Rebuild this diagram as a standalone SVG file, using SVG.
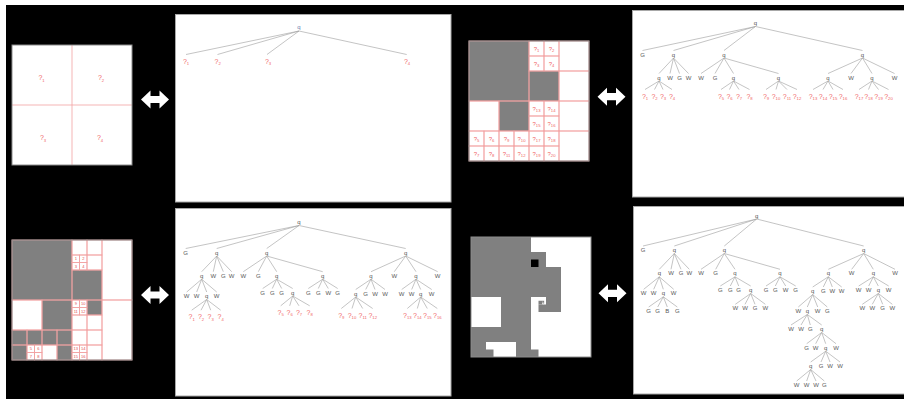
<svg xmlns="http://www.w3.org/2000/svg" width="904" height="399" viewBox="0 0 904 399">
<style>
.n{font-family:"Liberation Sans",Arial,sans-serif;font-size:6px;fill:#5a5a5a;text-anchor:middle}
.r{font-family:"Liberation Sans",Arial,sans-serif;font-size:7px;fill:#f06464;text-anchor:middle}
.ri{font-family:"Liberation Sans",Arial,sans-serif;font-size:6px;fill:#f06464;text-anchor:middle}
.num{font-family:"Liberation Sans",Arial,sans-serif;font-size:4px;fill:#e05050;text-anchor:middle}
.s{font-size:4.2px}
.e{stroke:#9c9c9c;stroke-width:0.6;fill:none}
.cell{fill:none;stroke:#f2a2a2;stroke-width:0.8}
.red{stroke:#f2a2a2;stroke-width:0.8}
.g{fill:#808080}
.k{fill:#000}
.panel{fill:#fff;stroke:#a8a8a8;stroke-width:1}
.img{fill:#fff}
.bd{fill:none;stroke:#8c8c8c;stroke-width:1}
.arr{fill:#fff}
</style>
<defs>
<path id="dbl" d="M0,0 L9.5,-9 L9.5,-3.6 L18.5,-3.6 L18.5,-9 L28,0 L18.5,9 L18.5,3.6 L9.5,3.6 L9.5,9 Z"/>
</defs>
<rect x="0" y="0" width="904" height="399" fill="#fff"/>
<rect x="6" y="5" width="898" height="394" fill="#000"/>

<!-- panels -->
<rect class="panel" x="175.5" y="14.5" width="275.5" height="187.5"/>
<rect class="panel" x="175.5" y="208.5" width="275.5" height="187.5"/>
<rect class="panel" x="632.5" y="10.5" width="272" height="186.5"/>
<rect class="panel" x="633.5" y="206.5" width="271" height="187.5"/>

<!-- arrows -->
<g id="arrows">
<use href="#dbl" class="arr" transform="translate(141,99.5)"/>
<use href="#dbl" class="arr" transform="translate(597.5,96.7)"/>
<use href="#dbl" class="arr" transform="translate(141,295)"/>
<use href="#dbl" class="arr" transform="translate(598.5,293.3)"/>
</g>

<!-- image 1 -->
<g id="img1">
<rect class="img" x="12" y="45" width="120" height="120"/>
<line class="red" x1="72" y1="45" x2="72" y2="165"/>
<line class="red" x1="12" y1="105" x2="132" y2="105"/>
<rect class="bd" x="12" y="45" width="120" height="120"/>
<text class="r" x="41.5" y="80">?<tspan class="s" dy="1.5">1</tspan></text>
<text class="r" x="101" y="80">?<tspan class="s" dy="1.5">2</tspan></text>
<text class="r" x="43" y="140">?<tspan class="s" dy="1.5">3</tspan></text>
<text class="r" x="100" y="140">?<tspan class="s" dy="1.5">4</tspan></text>
</g>

<!-- image 2 -->
<g id="img2">
<rect class="img" x="469" y="41" width="120" height="120"/>
<rect class="g" x="469" y="41" width="60" height="60"/>
<rect class="g" x="529" y="71" width="30" height="30"/>
<rect class="g" x="499" y="101" width="30" height="30"/>
<rect class="cell" x="469" y="41" width="60" height="60"/>
<rect class="cell" x="559" y="41" width="30" height="30"/>
<rect class="cell" x="529" y="71" width="30" height="30"/>
<rect class="cell" x="559" y="71" width="30" height="30"/>
<rect class="cell" x="529" y="41" width="15" height="15"/>
<rect class="cell" x="544" y="41" width="15" height="15"/>
<rect class="cell" x="529" y="56" width="15" height="15"/>
<rect class="cell" x="544" y="56" width="15" height="15"/>
<rect class="cell" x="469" y="101" width="30" height="30"/>
<rect class="cell" x="499" y="101" width="30" height="30"/>
<rect class="cell" x="469" y="131" width="15" height="15"/>
<rect class="cell" x="484" y="131" width="15" height="15"/>
<rect class="cell" x="469" y="146" width="15" height="15"/>
<rect class="cell" x="484" y="146" width="15" height="15"/>
<rect class="cell" x="499" y="131" width="15" height="15"/>
<rect class="cell" x="514" y="131" width="15" height="15"/>
<rect class="cell" x="499" y="146" width="15" height="15"/>
<rect class="cell" x="514" y="146" width="15" height="15"/>
<rect class="cell" x="559" y="101" width="30" height="30"/>
<rect class="cell" x="559" y="131" width="30" height="30"/>
<rect class="cell" x="529" y="101" width="15" height="15"/>
<rect class="cell" x="544" y="101" width="15" height="15"/>
<rect class="cell" x="529" y="116" width="15" height="15"/>
<rect class="cell" x="544" y="116" width="15" height="15"/>
<rect class="cell" x="529" y="131" width="15" height="15"/>
<rect class="cell" x="544" y="131" width="15" height="15"/>
<rect class="cell" x="529" y="146" width="15" height="15"/>
<rect class="cell" x="544" y="146" width="15" height="15"/>
<rect class="bd" x="469" y="41" width="120" height="120"/>
<text class="ri" x="536.5" y="50.5">?<tspan class="s" dy="1.5">1</tspan></text>
<text class="ri" x="551.5" y="50.5">?<tspan class="s" dy="1.5">2</tspan></text>
<text class="ri" x="536.5" y="65.5">?<tspan class="s" dy="1.5">3</tspan></text>
<text class="ri" x="551.5" y="65.5">?<tspan class="s" dy="1.5">4</tspan></text>
<text class="ri" x="476.5" y="140.5">?<tspan class="s" dy="1.5">5</tspan></text>
<text class="ri" x="491.5" y="140.5">?<tspan class="s" dy="1.5">6</tspan></text>
<text class="ri" x="476.5" y="155.5">?<tspan class="s" dy="1.5">7</tspan></text>
<text class="ri" x="491.5" y="155.5">?<tspan class="s" dy="1.5">8</tspan></text>
<text class="ri" x="506.5" y="140.5">?<tspan class="s" dy="1.5">9</tspan></text>
<text class="ri" x="521.5" y="140.5">?<tspan class="s" dy="1.5">10</tspan></text>
<text class="ri" x="506.5" y="155.5">?<tspan class="s" dy="1.5">11</tspan></text>
<text class="ri" x="521.5" y="155.5">?<tspan class="s" dy="1.5">12</tspan></text>
<text class="ri" x="536.5" y="110.5">?<tspan class="s" dy="1.5">13</tspan></text>
<text class="ri" x="551.5" y="110.5">?<tspan class="s" dy="1.5">14</tspan></text>
<text class="ri" x="536.5" y="125.5">?<tspan class="s" dy="1.5">15</tspan></text>
<text class="ri" x="551.5" y="125.5">?<tspan class="s" dy="1.5">16</tspan></text>
<text class="ri" x="536.5" y="140.5">?<tspan class="s" dy="1.5">17</tspan></text>
<text class="ri" x="551.5" y="140.5">?<tspan class="s" dy="1.5">18</tspan></text>
<text class="ri" x="536.5" y="155.5">?<tspan class="s" dy="1.5">19</tspan></text>
<text class="ri" x="551.5" y="155.5">?<tspan class="s" dy="1.5">20</tspan></text>
</g>

<!-- image 3 -->
<g id="img3">
<rect class="img" x="12" y="240" width="120" height="120"/>
<rect class="g" x="12" y="240" width="60" height="60"/>
<rect class="g" x="72" y="270" width="30" height="30"/>
<rect class="g" x="42" y="300" width="30" height="30"/>
<rect class="g" x="12" y="330" width="30" height="15"/>
<rect class="g" x="12" y="345" width="15" height="15"/>
<rect class="g" x="42" y="330" width="30" height="15"/>
<rect class="g" x="57" y="345" width="15" height="15"/>
<rect class="g" x="87" y="300" width="15" height="15"/>
<rect class="cell" x="12" y="240" width="60" height="60"/>
<rect class="cell" x="72" y="240" width="15" height="15"/>
<rect class="cell" x="87" y="240" width="15" height="15"/>
<rect class="cell" x="87" y="255" width="15" height="15"/>
<rect class="cell" x="72" y="255" width="7.5" height="7.5"/>
<rect class="cell" x="79.5" y="255" width="7.5" height="7.5"/>
<rect class="cell" x="72" y="262.5" width="7.5" height="7.5"/>
<rect class="cell" x="79.5" y="262.5" width="7.5" height="7.5"/>
<rect class="cell" x="102" y="240" width="30" height="60"/>
<rect class="cell" x="72" y="270" width="30" height="30"/>
<rect class="cell" x="12" y="300" width="30" height="30"/>
<rect class="cell" x="42" y="300" width="30" height="30"/>
<rect class="cell" x="12" y="330" width="15" height="15"/>
<rect class="cell" x="27" y="330" width="15" height="15"/>
<rect class="cell" x="12" y="345" width="15" height="15"/>
<rect class="cell" x="27" y="345" width="7.5" height="7.5"/>
<rect class="cell" x="34.5" y="345" width="7.5" height="7.5"/>
<rect class="cell" x="27" y="352.5" width="7.5" height="7.5"/>
<rect class="cell" x="34.5" y="352.5" width="7.5" height="7.5"/>
<rect class="cell" x="42" y="330" width="15" height="15"/>
<rect class="cell" x="57" y="330" width="15" height="15"/>
<rect class="cell" x="42" y="345" width="15" height="15"/>
<rect class="cell" x="57" y="345" width="15" height="15"/>
<rect class="cell" x="72" y="300" width="7.5" height="7.5"/>
<rect class="cell" x="79.5" y="300" width="7.5" height="7.5"/>
<rect class="cell" x="72" y="307.5" width="7.5" height="7.5"/>
<rect class="cell" x="79.5" y="307.5" width="7.5" height="7.5"/>
<rect class="cell" x="87" y="300" width="15" height="15"/>
<rect class="cell" x="72" y="315" width="15" height="15"/>
<rect class="cell" x="87" y="315" width="15" height="15"/>
<rect class="cell" x="102" y="300" width="30" height="60"/>
<rect class="cell" x="72" y="330" width="15" height="15"/>
<rect class="cell" x="87" y="330" width="15" height="15"/>
<rect class="cell" x="72" y="345" width="7.5" height="7.5"/>
<rect class="cell" x="79.5" y="345" width="7.5" height="7.5"/>
<rect class="cell" x="72" y="352.5" width="7.5" height="7.5"/>
<rect class="cell" x="79.5" y="352.5" width="7.5" height="7.5"/>
<rect class="cell" x="87" y="345" width="15" height="15"/>
<rect class="bd" x="12" y="240" width="120" height="120"/>
<text class="num" x="75.75" y="260.2">1</text>
<text class="num" x="83.25" y="260.2">2</text>
<text class="num" x="75.75" y="267.7">3</text>
<text class="num" x="83.25" y="267.7">4</text>
<text class="num" x="30.75" y="350.2">5</text>
<text class="num" x="38.25" y="350.2">6</text>
<text class="num" x="30.75" y="357.7">7</text>
<text class="num" x="38.25" y="357.7">8</text>
<text class="num" x="75.75" y="305.2">9</text>
<text class="num" x="83.25" y="305.2">10</text>
<text class="num" x="75.75" y="312.7">11</text>
<text class="num" x="83.25" y="312.7">12</text>
<text class="num" x="75.75" y="350.2">13</text>
<text class="num" x="83.25" y="350.2">14</text>
<text class="num" x="75.75" y="357.7">15</text>
<text class="num" x="83.25" y="357.7">16</text>
</g>

<!-- image 4 -->
<g id="img4">
<rect class="img" x="471" y="237" width="120" height="120"/>
<rect class="g" x="471" y="237" width="60" height="60"/>
<rect class="g" x="531" y="252" width="15" height="15"/>
<rect class="k" x="531" y="259.5" width="7.5" height="7.5"/>
<rect class="g" x="531" y="267" width="30" height="30"/>
<rect class="g" x="501" y="297" width="30" height="30"/>
<rect class="g" x="471" y="327" width="30" height="15"/>
<rect class="g" x="471" y="342" width="15" height="15"/>
<rect class="g" x="486" y="349.5" width="7.5" height="7.5"/>
<rect class="g" x="501" y="327" width="30" height="15"/>
<rect class="g" x="516" y="342" width="15" height="15"/>
<rect class="g" x="546" y="297" width="15" height="15"/>
<rect class="g" x="538.5" y="304.5" width="7.5" height="7.5"/>
<rect class="g" x="538.5" y="300.75" width="3.75" height="3.75"/>
<rect class="g" x="542.25" y="300.75" width="1.875" height="1.875"/>
<rect class="g" x="543.19" y="302.625" width="0.94" height="0.94"/>
<rect class="g" x="531" y="349.5" width="7.5" height="7.5"/>
<rect class="bd" x="471" y="237" width="120" height="120" stroke="#b0b0b0"/>
</g>

<!-- connectors -->
<g id="connectors" class="e">
<path d="M299,31L186,54.5M299,31L217.5,54.5M299,31L267,54.5M299,31L406.7,54.5"/>
<path d="M755.5,26.5L642.5,50.5M755.5,26.5L673.5,50.5M755.5,26.5L724,50.5M755.5,26.5L862.5,50.5
M673.5,58L659,73.5M673.5,58L670,73.5M673.5,58L679.5,73.5M673.5,58L688.5,73.5
M724,58L701,73.5M724,58L715,73.5M724,58L733.5,73.5M724,58L778.5,73.5
M862.5,58L828,73.5M862.5,58L851,73.5M862.5,58L872,73.5M862.5,58L894.5,73.5
M659,81L645,89.5M659,81L654.5,89.5M659,81L663,89.5M659,81L672,89.5
M733.5,81L721,89.5M733.5,81L729.5,89.5M733.5,81L739,89.5M733.5,81L749.5,89.5
M778.5,81L766,89.5M778.5,81L776,89.5M778.5,81L787,89.5M778.5,81L797,89.5
M828,81L813,89.5M828,81L823,89.5M828,81L833,89.5M828,81L843,89.5
M872,81L859,89.5M872,81L868.5,89.5M872,81L878.5,89.5M872,81L888.5,89.5"/>
<path d="M299,225.5L185.7,248.5M299,225.5L216.7,248.5M299,225.5L266.7,248.5M299,225.5L405.7,248.5
M216.7,256L201.7,271.7M216.7,256L213.3,271.7M216.7,256L223.3,271.7M216.7,256L231.7,271.7
M266.7,256L243.3,271.7M266.7,256L258.3,271.7M266.7,256L276.7,271.7M266.7,256L322.7,271.7
M405.7,256L371,271.7M405.7,256L394.3,271.7M405.7,256L416,271.7M405.7,256L437.7,271.7
M201.7,279.2L186.7,292M201.7,279.2L196.7,292M201.7,279.2L206.7,292M201.7,279.2L216.7,292
M276.7,279.2L262.7,288.5M276.7,279.2L272.3,288.5M276.7,279.2L281.7,288.5M276.7,279.2L292.7,288.5
M322.7,279.2L308.3,288.5M322.7,279.2L318.3,288.5M322.7,279.2L328.3,288.5M322.7,279.2L337.7,288.5
M371,279.2L355.7,289.5M371,279.2L365.7,289.5M371,279.2L375,289.5M371,279.2L385,289.5
M416,279.2L401.7,289.5M416,279.2L411.7,289.5M416,279.2L420.7,289.5M416,279.2L431.7,289.5
M206.7,299.5L191.7,310.2M206.7,299.5L201,310.2M206.7,299.5L210.7,310.2M206.7,299.5L220.7,310.2
M292.7,296L280.7,305.8M292.7,296L289.7,305.8M292.7,296L299,305.8M292.7,296L309.7,305.8
M355.7,297L341.3,308.5M355.7,297L352,308.5M355.7,297L362.7,308.5M355.7,297L372.7,308.5
M420.7,297L407.3,308.5M420.7,297L417.3,308.5M420.7,297L427.3,308.5M420.7,297L437.3,308.5"/>
<path d="M756.7,219L643,246M756.7,219L674.3,246M756.7,219L724.3,246M756.7,219L863.7,246
M674.3,253.5L659.3,269.3M674.3,253.5L671,269.3M674.3,253.5L681,269.3M674.3,253.5L689.3,269.3
M724.3,253.5L701,269.3M724.3,253.5L715.7,269.3M724.3,253.5L735,269.3M724.3,253.5L780,269.3
M863.7,253.5L828.3,269.3M863.7,253.5L851.7,269.3M863.7,253.5L873.3,269.3M863.7,253.5L895,269.3
M659.3,276.8L643.7,289.3M659.3,276.8L653.7,289.3M659.3,276.8L663.3,289.3M659.3,276.8L673.7,289.3
M735,276.8L720.3,286M735,276.8L730.3,286M735,276.8L738.7,286M735,276.8L750.7,286
M780,276.8L766,286M780,276.8L775.3,286M780,276.8L785.7,286M780,276.8L795.7,286
M828.3,276.8L812.7,287M828.3,276.8L823.3,287M828.3,276.8L832.3,287M828.3,276.8L841.7,287
M873.3,276.8L858.7,286M873.3,276.8L868.7,286M873.3,276.8L878.3,286M873.3,276.8L888.7,286
M663.3,296.8L648.7,307M663.3,296.8L657.7,307M663.3,296.8L667.3,307M663.3,296.8L677.3,307
M750.7,293.5L735.3,304.3M750.7,293.5L745,304.3M750.7,293.5L755,304.3M750.7,293.5L765.3,304.3
M812.7,294.5L798.3,307M812.7,294.5L807.3,307M812.7,294.5L817.7,307M812.7,294.5L827.3,307
M878.3,293.5L862.3,304.3M878.3,293.5L872.3,304.3M878.3,293.5L882.7,304.3M878.3,293.5L892.3,304.3
M807.3,314.5L791,325M807.3,314.5L801,325M807.3,314.5L810.3,325M807.3,314.5L821.7,325
M821.7,332.5L806.7,343.7M821.7,332.5L815.7,343.7M821.7,332.5L825.7,343.7M821.7,332.5L836,343.7
M825.7,351.2L810.7,362M825.7,351.2L821,362M825.7,351.2L830,362M825.7,351.2L840,362
M810.7,369.5L796.7,381M810.7,369.5L806.7,381M810.7,369.5L816,381M810.7,369.5L824.3,381"/>
</g>

<!-- tree 1 nodes -->
<g id="t1-root"><text class="n" x="299" y="29" style="fill:#6a7db0">q</text></g>
<g id="t1-a"><text class="r" x="186" y="63.5">?<tspan class="s" dy="1.5">1</tspan></text></g>
<g id="t1-b"><text class="r" x="217.7" y="63.5">?<tspan class="s" dy="1.5">2</tspan></text></g>
<g id="t1-c"><text class="r" x="268" y="63.5">?<tspan class="s" dy="1.5">3</tspan></text></g>
<g id="t1-d"><text class="r" x="407" y="63.5">?<tspan class="s" dy="1.5">4</tspan></text></g>

<!-- tree 2 nodes -->
<g id="t2-root"><text class="n" x="755.5" y="25">q</text></g>
<g id="t2-1"><text class="n" x="642.5" y="56.5">G</text></g>
<g id="t2-2"><text class="n" x="673.5" y="56.5">q</text></g>
<g id="t2-3"><text class="n" x="724" y="56.5">q</text></g>
<g id="t2-4"><text class="n" x="862.5" y="56.5">q</text></g>
<g id="t2-21"><text class="n" x="659" y="79.5">q</text></g>
<g id="t2-22"><text class="n" x="670" y="79.5">W</text></g>
<g id="t2-23"><text class="n" x="679.5" y="79.5">G</text></g>
<g id="t2-24"><text class="n" x="688.5" y="79.5">W</text></g>
<g id="t2-31"><text class="n" x="701" y="79.5">W</text></g>
<g id="t2-32"><text class="n" x="715" y="79.5">G</text></g>
<g id="t2-33"><text class="n" x="733.5" y="79.5">q</text></g>
<g id="t2-34"><text class="n" x="778.5" y="79.5">q</text></g>
<g id="t2-41"><text class="n" x="828" y="79.5">q</text></g>
<g id="t2-42"><text class="n" x="851" y="79.5">W</text></g>
<g id="t2-43"><text class="n" x="872" y="79.5">q</text></g>
<g id="t2-44"><text class="n" x="894.5" y="79.5">W</text></g>
<g id="t2-l1"><text class="r" x="645" y="98.5">?<tspan class="s" dy="1.5">1</tspan></text></g>
<g id="t2-l2"><text class="r" x="654.5" y="98.5">?<tspan class="s" dy="1.5">2</tspan></text></g>
<g id="t2-l3"><text class="r" x="663" y="98.5">?<tspan class="s" dy="1.5">3</tspan></text></g>
<g id="t2-l4"><text class="r" x="672" y="98.5">?<tspan class="s" dy="1.5">4</tspan></text></g>
<g id="t2-l5"><text class="r" x="721" y="98.5">?<tspan class="s" dy="1.5">5</tspan></text></g>
<g id="t2-l6"><text class="r" x="729.5" y="98.5">?<tspan class="s" dy="1.5">6</tspan></text></g>
<g id="t2-l7"><text class="r" x="739" y="98.5">?<tspan class="s" dy="1.5">7</tspan></text></g>
<g id="t2-l8"><text class="r" x="749.5" y="98.5">?<tspan class="s" dy="1.5">8</tspan></text></g>
<g id="t2-l9"><text class="r" x="766" y="98.5">?<tspan class="s" dy="1.5">9</tspan></text></g>
<g id="t2-l10"><text class="r" x="776" y="98.5">?<tspan class="s" dy="1.5">10</tspan></text></g>
<g id="t2-l11"><text class="r" x="787" y="98.5">?<tspan class="s" dy="1.5">11</tspan></text></g>
<g id="t2-l12"><text class="r" x="797" y="98.5">?<tspan class="s" dy="1.5">12</tspan></text></g>
<g id="t2-l13"><text class="r" x="813" y="98.5">?<tspan class="s" dy="1.5">13</tspan></text></g>
<g id="t2-l14"><text class="r" x="823" y="98.5">?<tspan class="s" dy="1.5">14</tspan></text></g>
<g id="t2-l15"><text class="r" x="833" y="98.5">?<tspan class="s" dy="1.5">15</tspan></text></g>
<g id="t2-l16"><text class="r" x="843" y="98.5">?<tspan class="s" dy="1.5">16</tspan></text></g>
<g id="t2-l17"><text class="r" x="859" y="98.5">?<tspan class="s" dy="1.5">17</tspan></text></g>
<g id="t2-l18"><text class="r" x="868.5" y="98.5">?<tspan class="s" dy="1.5">18</tspan></text></g>
<g id="t2-l19"><text class="r" x="878.5" y="98.5">?<tspan class="s" dy="1.5">19</tspan></text></g>
<g id="t2-l20"><text class="r" x="888.5" y="98.5">?<tspan class="s" dy="1.5">20</tspan></text></g>

<!-- tree 3 nodes -->
<g id="t3-root"><text class="n" x="299" y="224">q</text></g>
<g id="t3-1"><text class="n" x="185.7" y="254.5">G</text></g>
<g id="t3-2"><text class="n" x="216.7" y="254.5">q</text></g>
<g id="t3-3"><text class="n" x="266.7" y="254.5">q</text></g>
<g id="t3-4"><text class="n" x="405.7" y="254.5">q</text></g>
<g id="t3-21"><text class="n" x="201.7" y="277.7">q</text></g>
<g id="t3-22"><text class="n" x="213.3" y="277.7">W</text></g>
<g id="t3-23"><text class="n" x="223.3" y="277.7">G</text></g>
<g id="t3-24"><text class="n" x="231.7" y="277.7">W</text></g>
<g id="t3-31"><text class="n" x="243.3" y="277.7">W</text></g>
<g id="t3-32"><text class="n" x="258.3" y="277.7">G</text></g>
<g id="t3-33"><text class="n" x="276.7" y="277.7">q</text></g>
<g id="t3-34"><text class="n" x="322.7" y="277.7">q</text></g>
<g id="t3-41"><text class="n" x="371" y="277.7">q</text></g>
<g id="t3-42"><text class="n" x="394.3" y="277.7">W</text></g>
<g id="t3-43"><text class="n" x="416" y="277.7">q</text></g>
<g id="t3-44"><text class="n" x="437.7" y="277.7">W</text></g>
<g id="t3-211"><text class="n" x="186.7" y="298">W</text></g>
<g id="t3-212"><text class="n" x="196.7" y="298">W</text></g>
<g id="t3-213"><text class="n" x="206.7" y="298">q</text></g>
<g id="t3-214"><text class="n" x="216.7" y="298">W</text></g>
<g id="t3-331"><text class="n" x="262.7" y="294.5">G</text></g>
<g id="t3-332"><text class="n" x="272.3" y="294.5">G</text></g>
<g id="t3-333"><text class="n" x="281.7" y="294.5">G</text></g>
<g id="t3-334"><text class="n" x="292.7" y="294.5">q</text></g>
<g id="t3-341"><text class="n" x="308.3" y="294.5">G</text></g>
<g id="t3-342"><text class="n" x="318.3" y="294.5">G</text></g>
<g id="t3-343"><text class="n" x="328.3" y="294.5">W</text></g>
<g id="t3-344"><text class="n" x="337.7" y="294.5">G</text></g>
<g id="t3-411"><text class="n" x="355.7" y="295.5">q</text></g>
<g id="t3-412"><text class="n" x="365.7" y="295.5">G</text></g>
<g id="t3-413"><text class="n" x="375" y="295.5">W</text></g>
<g id="t3-414"><text class="n" x="385" y="295.5">W</text></g>
<g id="t3-431"><text class="n" x="401.7" y="295.5">W</text></g>
<g id="t3-432"><text class="n" x="411.7" y="295.5">W</text></g>
<g id="t3-433"><text class="n" x="420.7" y="295.5">q</text></g>
<g id="t3-434"><text class="n" x="431.7" y="295.5">W</text></g>
<g id="t3-l1"><text class="r" x="191.7" y="319.2">?<tspan class="s" dy="1.5">1</tspan></text></g>
<g id="t3-l2"><text class="r" x="201" y="319.2">?<tspan class="s" dy="1.5">2</tspan></text></g>
<g id="t3-l3"><text class="r" x="210.7" y="319.2">?<tspan class="s" dy="1.5">3</tspan></text></g>
<g id="t3-l4"><text class="r" x="220.7" y="319.2">?<tspan class="s" dy="1.5">4</tspan></text></g>
<g id="t3-l5"><text class="r" x="280.7" y="314.8">?<tspan class="s" dy="1.5">5</tspan></text></g>
<g id="t3-l6"><text class="r" x="289.7" y="314.8">?<tspan class="s" dy="1.5">6</tspan></text></g>
<g id="t3-l7"><text class="r" x="299" y="314.8">?<tspan class="s" dy="1.5">7</tspan></text></g>
<g id="t3-l8"><text class="r" x="309.7" y="314.8">?<tspan class="s" dy="1.5">8</tspan></text></g>
<g id="t3-l9"><text class="r" x="341.3" y="317.5">?<tspan class="s" dy="1.5">9</tspan></text></g>
<g id="t3-l10"><text class="r" x="352" y="317.5">?<tspan class="s" dy="1.5">10</tspan></text></g>
<g id="t3-l11"><text class="r" x="362.7" y="317.5">?<tspan class="s" dy="1.5">11</tspan></text></g>
<g id="t3-l12"><text class="r" x="372.7" y="317.5">?<tspan class="s" dy="1.5">12</tspan></text></g>
<g id="t3-l13"><text class="r" x="407.3" y="317.5">?<tspan class="s" dy="1.5">13</tspan></text></g>
<g id="t3-l14"><text class="r" x="417.3" y="317.5">?<tspan class="s" dy="1.5">14</tspan></text></g>
<g id="t3-l15"><text class="r" x="427.3" y="317.5">?<tspan class="s" dy="1.5">15</tspan></text></g>
<g id="t3-l16"><text class="r" x="437.3" y="317.5">?<tspan class="s" dy="1.5">16</tspan></text></g>

<!-- tree 4 nodes -->
<g id="t4-root"><text class="n" x="756.7" y="217.5">q</text></g>
<g id="t4-1"><text class="n" x="643" y="252">G</text></g>
<g id="t4-2"><text class="n" x="674.3" y="252">q</text></g>
<g id="t4-3"><text class="n" x="724.3" y="252">q</text></g>
<g id="t4-4"><text class="n" x="863.7" y="252">q</text></g>
<g id="t4-21"><text class="n" x="659.3" y="275.3">q</text></g>
<g id="t4-22"><text class="n" x="671" y="275.3">W</text></g>
<g id="t4-23"><text class="n" x="681" y="275.3">G</text></g>
<g id="t4-24"><text class="n" x="689.3" y="275.3">W</text></g>
<g id="t4-31"><text class="n" x="701" y="275.3">W</text></g>
<g id="t4-32"><text class="n" x="715.7" y="275.3">G</text></g>
<g id="t4-33"><text class="n" x="735" y="275.3">q</text></g>
<g id="t4-34"><text class="n" x="780" y="275.3">q</text></g>
<g id="t4-41"><text class="n" x="828.3" y="275.3">q</text></g>
<g id="t4-42"><text class="n" x="851.7" y="275.3">W</text></g>
<g id="t4-43"><text class="n" x="873.3" y="275.3">q</text></g>
<g id="t4-44"><text class="n" x="895" y="275.3">W</text></g>
<g id="t4-211"><text class="n" x="643.7" y="295.3">W</text></g>
<g id="t4-212"><text class="n" x="653.7" y="295.3">W</text></g>
<g id="t4-213"><text class="n" x="663.3" y="295.3">q</text></g>
<g id="t4-214"><text class="n" x="673.7" y="295.3">W</text></g>
<g id="t4-331"><text class="n" x="720.3" y="292">G</text></g>
<g id="t4-332"><text class="n" x="730.3" y="292">G</text></g>
<g id="t4-333"><text class="n" x="738.7" y="292">G</text></g>
<g id="t4-334"><text class="n" x="750.7" y="292">q</text></g>
<g id="t4-341"><text class="n" x="766" y="292">G</text></g>
<g id="t4-342"><text class="n" x="775.3" y="292">G</text></g>
<g id="t4-343"><text class="n" x="785.7" y="292">W</text></g>
<g id="t4-344"><text class="n" x="795.7" y="292">G</text></g>
<g id="t4-411"><text class="n" x="812.7" y="293">q</text></g>
<g id="t4-412"><text class="n" x="823.3" y="293">G</text></g>
<g id="t4-413"><text class="n" x="832.3" y="293">W</text></g>
<g id="t4-414"><text class="n" x="841.7" y="293">W</text></g>
<g id="t4-431"><text class="n" x="858.7" y="292">W</text></g>
<g id="t4-432"><text class="n" x="868.7" y="292">W</text></g>
<g id="t4-433"><text class="n" x="878.3" y="292">q</text></g>
<g id="t4-434"><text class="n" x="888.7" y="292">W</text></g>
<g id="t4-2131"><text class="n" x="648.7" y="313">G</text></g>
<g id="t4-2132"><text class="n" x="657.7" y="313">G</text></g>
<g id="t4-2133"><text class="n" x="667.3" y="313">B</text></g>
<g id="t4-2134"><text class="n" x="677.3" y="313">G</text></g>
<g id="t4-3341"><text class="n" x="735.3" y="310.3">W</text></g>
<g id="t4-3342"><text class="n" x="745" y="310.3">W</text></g>
<g id="t4-3343"><text class="n" x="755" y="310.3">G</text></g>
<g id="t4-3344"><text class="n" x="765.3" y="310.3">W</text></g>
<g id="t4-4111"><text class="n" x="798.3" y="313">W</text></g>
<g id="t4-4112"><text class="n" x="807.3" y="313">q</text></g>
<g id="t4-4113"><text class="n" x="817.7" y="313">W</text></g>
<g id="t4-4114"><text class="n" x="827.3" y="313">G</text></g>
<g id="t4-4331"><text class="n" x="862.3" y="310.3">W</text></g>
<g id="t4-4332"><text class="n" x="872.3" y="310.3">W</text></g>
<g id="t4-4333"><text class="n" x="882.7" y="310.3">G</text></g>
<g id="t4-4334"><text class="n" x="892.3" y="310.3">W</text></g>
<g id="t4-5a"><text class="n" x="791" y="331">W</text></g>
<g id="t4-5b"><text class="n" x="801" y="331">W</text></g>
<g id="t4-5c"><text class="n" x="810.3" y="331">G</text></g>
<g id="t4-5d"><text class="n" x="821.7" y="331">q</text></g>
<g id="t4-6a"><text class="n" x="806.7" y="349.7">G</text></g>
<g id="t4-6b"><text class="n" x="815.7" y="349.7">W</text></g>
<g id="t4-6c"><text class="n" x="825.7" y="349.7">q</text></g>
<g id="t4-6d"><text class="n" x="836" y="349.7">W</text></g>
<g id="t4-7a"><text class="n" x="810.7" y="368">q</text></g>
<g id="t4-7b"><text class="n" x="821" y="368">G</text></g>
<g id="t4-7c"><text class="n" x="830" y="368">W</text></g>
<g id="t4-7d"><text class="n" x="840" y="368">W</text></g>
<g id="t4-8a"><text class="n" x="796.7" y="387">W</text></g>
<g id="t4-8b"><text class="n" x="806.7" y="387">W</text></g>
<g id="t4-8c"><text class="n" x="816" y="387">W</text></g>
<g id="t4-8d"><text class="n" x="824.3" y="387">G</text></g>
</svg>
